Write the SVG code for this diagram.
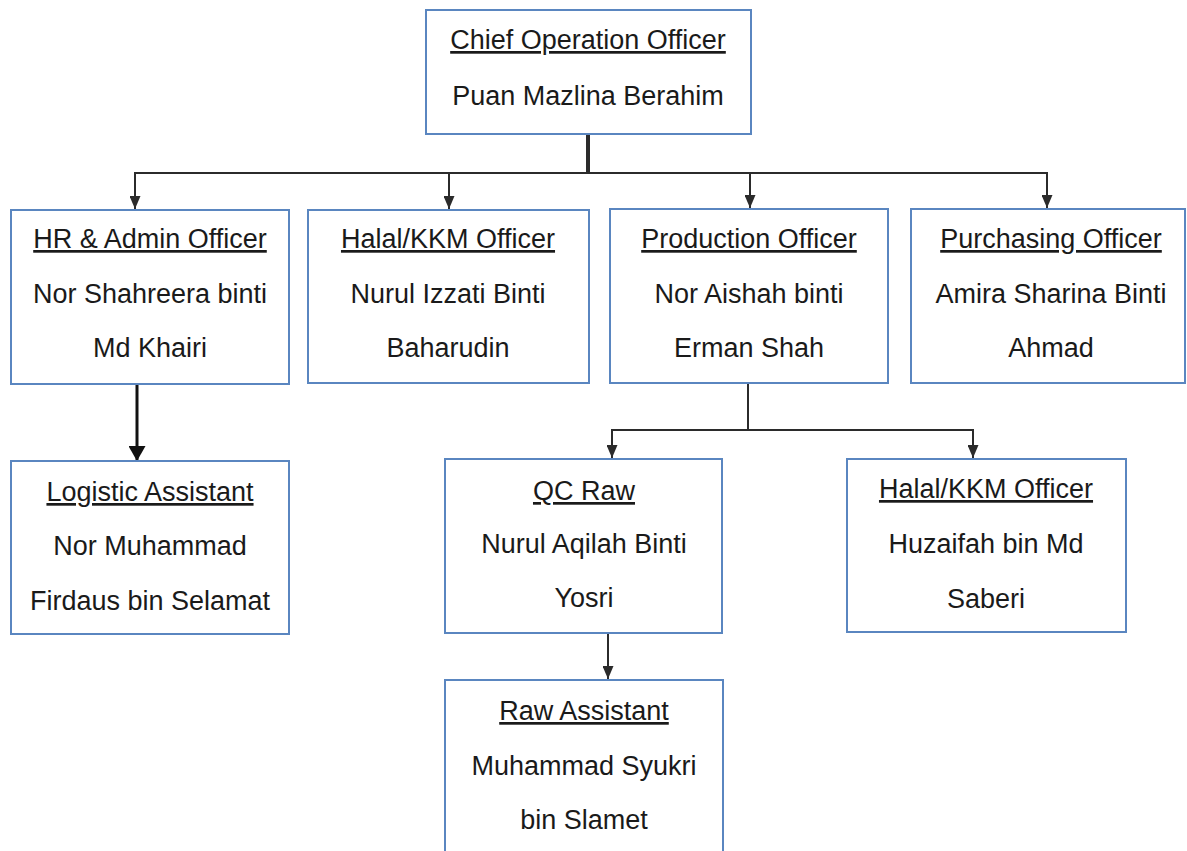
<svg xmlns="http://www.w3.org/2000/svg" width="1187" height="851" viewBox="0 0 1187 851">
<defs>
<style>
.box{fill:#ffffff;stroke:#5a86c0;stroke-width:2}
.t{font-family:"Liberation Sans",Arial,sans-serif;font-size:27px;fill:#1a1a1a;text-anchor:middle}
.u{text-decoration:underline}
.c{fill:none;stroke:#2b2b2b;stroke-width:2}
</style>
<marker id="ah" viewBox="0 0 13 11" refX="13" refY="5.5" markerWidth="13" markerHeight="11" markerUnits="userSpaceOnUse" orient="auto">
<path d="M0,0 L13,5.5 L0,11 Z" fill="#2b2b2b"/>
</marker>
<marker id="ahb" viewBox="0 0 15 17" refX="15" refY="8.5" markerWidth="15" markerHeight="17" markerUnits="userSpaceOnUse" orient="auto">
<path d="M0,0 L15,8.5 L0,17 Z" fill="#111111"/>
</marker>
</defs>
<rect width="1187" height="851" fill="#ffffff"/>
<g id="connectors">
<line x1="588" y1="135" x2="588" y2="174" stroke="#2b2b2b" stroke-width="4"/>
<polyline class="c" points="135,174 135,173 1047,173 1047,174"/>
<line class="c" x1="135" y1="173" x2="135" y2="209" marker-end="url(#ah)"/>
<line class="c" x1="449" y1="173" x2="449" y2="209" marker-end="url(#ah)"/>
<line class="c" x1="750" y1="173" x2="750" y2="208" marker-end="url(#ah)"/>
<line class="c" x1="1047" y1="173" x2="1047" y2="208" marker-end="url(#ah)"/>
<line x1="137" y1="385" x2="137" y2="461" stroke="#111111" stroke-width="3" marker-end="url(#ahb)"/>
<polyline class="c" points="748,383 748,430"/>
<polyline class="c" points="612,440 612,430 973,430 973,440"/>
<line class="c" x1="612" y1="430" x2="612" y2="458" marker-end="url(#ah)"/>
<line class="c" x1="973" y1="430" x2="973" y2="458" marker-end="url(#ah)"/>
<line class="c" x1="608" y1="633" x2="608" y2="679" marker-end="url(#ah)"/>
</g>
<g id="coo">
<rect class="box" x="426" y="10" width="325" height="124"/>
<text class="t u" x="588" y="49">Chief Operation Officer</text>
<text class="t" x="588" y="105">Puan Mazlina Berahim</text>
</g>
<g id="hr">
<rect class="box" x="11" y="210" width="278" height="174"/>
<text class="t u" x="150" y="248">HR &amp; Admin Officer</text>
<text class="t" x="150" y="303">Nor Shahreera binti</text>
<text class="t" x="150" y="357">Md Khairi</text>
</g>
<g id="halal1">
<rect class="box" x="308" y="210" width="281" height="173"/>
<text class="t u" x="448" y="248">Halal/KKM Officer</text>
<text class="t" x="448" y="303">Nurul Izzati Binti</text>
<text class="t" x="448" y="357">Baharudin</text>
</g>
<g id="production">
<rect class="box" x="610" y="209" width="278" height="174"/>
<text class="t u" x="749" y="248">Production Officer</text>
<text class="t" x="749" y="303">Nor Aishah binti</text>
<text class="t" x="749" y="357">Erman Shah</text>
</g>
<g id="purchasing">
<rect class="box" x="911" y="209" width="274" height="174"/>
<text class="t u" x="1051" y="248">Purchasing Officer</text>
<text class="t" x="1051" y="303">Amira Sharina Binti</text>
<text class="t" x="1051" y="357">Ahmad</text>
</g>
<g id="logistic">
<rect class="box" x="11" y="461" width="278" height="173"/>
<text class="t u" x="150" y="501">Logistic Assistant</text>
<text class="t" x="150" y="555">Nor Muhammad</text>
<text class="t" x="150" y="610">Firdaus bin Selamat</text>
</g>
<g id="qcraw">
<rect class="box" x="445" y="459" width="277" height="174"/>
<text class="t u" x="584" y="500">QC Raw</text>
<text class="t" x="584" y="553">Nurul Aqilah Binti</text>
<text class="t" x="584" y="607">Yosri</text>
</g>
<g id="halal2">
<rect class="box" x="847" y="459" width="279" height="173"/>
<text class="t u" x="986" y="498">Halal/KKM Officer</text>
<text class="t" x="986" y="553">Huzaifah bin Md</text>
<text class="t" x="986" y="608">Saberi</text>
</g>
<g id="rawassistant">
<rect class="box" x="445" y="680" width="278" height="190"/>
<text class="t u" x="584" y="720">Raw Assistant</text>
<text class="t" x="584" y="775">Muhammad Syukri</text>
<text class="t" x="584" y="829">bin Slamet</text>
</g>
</svg>
